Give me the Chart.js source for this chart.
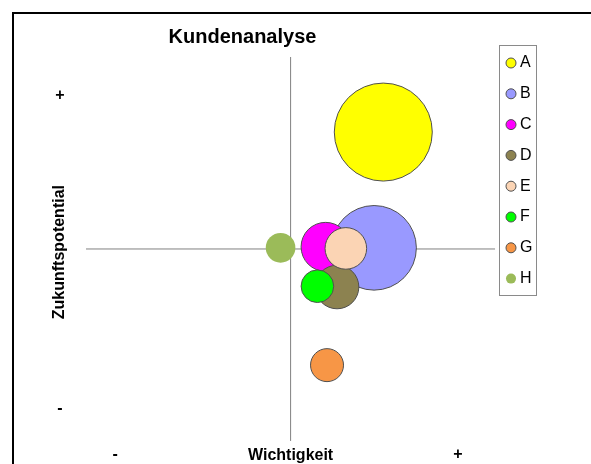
<!DOCTYPE html>
<html><head><meta charset="utf-8">
<script src="https://cdn.jsdelivr.net/npm/chart.js@4"></script>
<style>html,body{margin:0;padding:0;background:#fff;overflow:hidden}canvas{display:block}</style>
</head><body>
<canvas id="c" width="591" height="464"></canvas>
<script>
// ---- data ----
const categories   = ['A', 'B', 'C', 'D', 'E', 'F', 'G', 'H'];
const importance   = [4.53, 4.08, 1.71, 2.27, 2.70, 1.31, 1.78, -0.49];   // Wichtigkeit (x)
const potential    = [6.09, 0.06, 0.11, -1.98, 0.03, -1.94, -6.05, 0.06];  // Zukunftspotential (y)
const bubbleRadius = [49, 42.3, 24.5, 21.8, 20.8, 16.3, 16.5, 14.8];
const fillColors   = ['#ffff00', '#9999ff', '#ff00ff', '#8c8250', '#fbd4b4', '#00ff00', '#f79646', '#9bbb59'];
const xTickValues  = [-8.58, 8.18];
const yTickValues  = [-8.3, 7.98];
const tickLabels   = ['-', '+'];
const quadrantEnds = [-10, 10];

Chart.defaults.font.family = "'Liberation Sans', Arial, sans-serif";
Chart.defaults.color = '#000';

const bubbleSets = categories.map((c, i) => ({
  type: 'bubble',
  label: c,
  data: [{ x: importance[i], y: potential[i], r: bubbleRadius[i] }],
  backgroundColor: fillColors[i],
  borderColor: i === 7 ? fillColors[i] : '#505050',
  borderWidth: i === 7 ? 0 : 1,
  order: categories.length - i
}));

const lineStyle = { type: 'line', borderColor: '#808080', borderWidth: 1, pointRadius: 0, fill: false, order: 100 };
const lineSets = [
  Object.assign({ label: '_v', data: quadrantEnds.map(v => ({ x: 0, y: v })) }, lineStyle),
  Object.assign({ label: '_h', data: quadrantEnds.map(v => ({ x: v, y: 0 })) }, lineStyle)
];

const framePlugin = {
  id: 'frame',
  beforeDraw(chart) {
    const c = chart.ctx; c.save(); c.fillStyle = '#fff'; c.fillRect(0, 0, chart.width, chart.height); c.restore();
  },
  afterDraw(chart) {
    const c = chart.ctx, lg = chart.legend, hb = lg.legendHitBoxes;
    c.save();
    c.strokeStyle = '#8a8a8a'; c.lineWidth = 1;
    const x1 = Math.round(lg.left + 4) + 0.5, x2 = Math.round(lg.right - 6) + 0.5;
    const last = hb[hb.length - 1];
    const y1 = Math.round(hb[0].top - 10) + 0.5, y2 = Math.round(last.top + last.height + 8.4) + 0.5;
    c.strokeRect(x1, y1, x2 - x1, y2 - y1);
    c.strokeStyle = '#000'; c.lineWidth = 2; c.strokeRect(13, 13, 800, 800);
    c.restore();
  }
};

new Chart(document.getElementById('c'), {
  data: { datasets: [...lineSets, ...bubbleSets] },
  options: {
    responsive: false,
    animation: false,
    events: [],
    layout: { autoPadding: false, padding: { left: -57.45, right: 48.55, top: 0, bottom: 0 } },
    scales: {
      x: {
        type: 'linear', min: -10, max: 10, position: 'bottom',
        grid: { display: false, drawTicks: false }, border: { display: false },
        afterBuildTicks: s => { s.ticks = xTickValues.map(v => ({ value: v })); },
        ticks: { autoSkip: false, maxRotation: 0, mirror: true, padding: -0.6, font: { size: 16, weight: 'bold' }, callback: (v, i) => tickLabels[i] },
        title: { display: true, text: 'Wichtigkeit', font: { size: 16, weight: 'bold' }, padding: { top: 0, bottom: -1.2 } },
        afterFit: s => { s.height = 0; s.paddingLeft = 0; s.paddingRight = 0; }
      },
      y: {
        type: 'linear', min: -11.2, max: 10.875, position: 'left',
        grid: { display: false, drawTicks: false }, border: { display: false },
        afterBuildTicks: s => { s.ticks = yTickValues.map(v => ({ value: v })); },
        ticks: { autoSkip: false, padding: 21.33, crossAlign: 'center', font: { size: 16, weight: 'bold' }, callback: (v, i) => tickLabels[i] },
        title: { display: true, text: 'Zukunftspotential', font: { size: 16, weight: 'bold' }, padding: { top: 107.85, bottom: 0 } },
        afterFit: s => { s.width = 143.45; s.paddingTop = 0; s.paddingBottom = 0; }
      }
    },
    plugins: {
      title: { display: true, text: 'Kundenanalyse', font: { size: 20, weight: 'bold' }, color: '#000', padding: { top: 25, bottom: -8.8 } },
      legend: {
        position: 'right', align: 'start', fullSize: false,
        labels: {
          usePointStyle: true, pointStyle: 'circle', boxWidth: 2, boxHeight: 7.07, padding: 14.8,
          font: { size: 16 }, color: '#000',
          filter: item => categories.includes(item.text),
          sort: (a, b) => a.datasetIndex - b.datasetIndex
        }
      },
      tooltip: { enabled: false }
    }
  },
  plugins: [framePlugin]
});
</script>
</body></html>
